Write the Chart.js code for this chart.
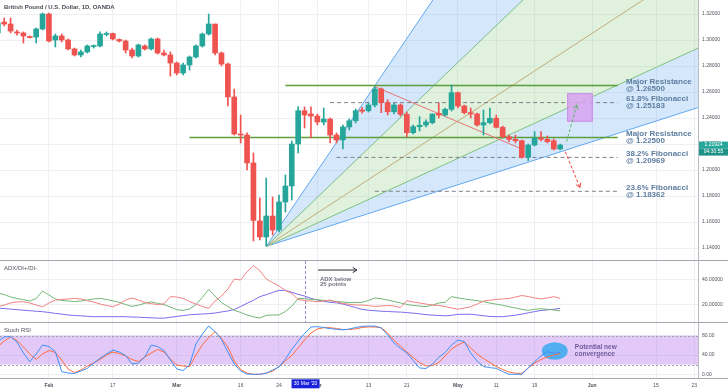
<!DOCTYPE html>
<html>
<head>
<meta charset="utf-8">
<script src="https://cdn.jsdelivr.net/npm/chart.js@4.4.1/dist/chart.umd.min.js"></script>
<style>
html,body{margin:0;padding:0;background:#fff;}
#wrap{position:relative;width:728px;height:391px;overflow:hidden;}
canvas{position:absolute;left:0;}
</style>
</head>
<body>
<div id="wrap">
  <canvas id="main" width="728" height="260" style="top:0"></canvas>
  <canvas id="adx" width="728" height="62" style="top:260px"></canvas>
  <canvas id="stoch" width="728" height="69" style="top:322px"></canvas>
</div>
<script>
// trading days (categories)
var firstDay = '2020-01-22', lastDay = '2020-06-26';
var dates = [];
for (var d = new Date(firstDay + 'T00:00:00Z'); d <= new Date(lastDay + 'T00:00:00Z'); d.setUTCDate(d.getUTCDate() + 1)) {
  var w = d.getUTCDay();
  if (w !== 0 && w !== 6) dates.push(d.toISOString().slice(0, 10));
}
function idx(s) { return dates.indexOf(s); }

var tickDates = ['2020-02-03','2020-02-17','2020-03-02','2020-03-16','2020-03-24','2020-04-01','2020-04-13','2020-04-21','2020-05-01','2020-05-11','2020-05-19','2020-06-01','2020-06-15','2020-06-23'];
var tickLabels = ['Feb','17','Mar','16','24','Apr','13','21','May','11','19','Jun','15','23'];
var priceTicks = [1.14,1.16,1.18,1.20,1.22,1.24,1.26,1.28,1.30,1.32];
var adxTicks = [20,40];
var stochTicks = [0,40,80];

// GBP/USD daily candles, 22 Jan - 25 May 2020
var opens = [1.3054,1.3138,1.3123,1.3062,1.3054,1.3027,1.3023,1.3085,1.3200,1.3000,
1.3031,1.3000,1.2931,1.2885,1.2908,1.2950,1.2954,1.3042,1.3050,1.3004,
1.2992,1.2923,1.2877,1.2954,1.2931,1.3008,1.2900,1.2885,1.2823,1.2746,
1.2808,1.2869,1.2954,1.3046,1.3123,1.2900,1.2815,1.2562,1.2277,1.2269,
1.2054,1.1608,1.1485,1.1646,1.1538,1.1754,1.1877,1.2200,1.2456,1.2431,
1.2415,1.2369,1.2392,1.2269,1.2231,1.2331,1.2379,1.2462,1.2456,1.2500,
1.2623,1.2518,1.2448,1.2500,1.2428,1.2287,1.2333,1.2346,1.2364,1.2436,
1.2423,1.2467,1.2595,1.2492,1.2441,1.2431,1.2346,1.2364,1.2398,1.2328,
1.2256,1.2236,1.2225,1.2098,1.2192,1.2248,1.2236,1.2225,1.2162];
var highs = [1.3138,1.3169,1.3169,1.3077,1.3062,1.3031,1.3092,1.3208,1.3208,1.3046,
1.3046,1.3008,1.2938,1.2923,1.2962,1.2962,1.3062,1.3062,1.3054,1.3008,
1.3000,1.2938,1.2969,1.2962,1.3015,1.3015,1.2923,1.2908,1.2831,1.2823,
1.2877,1.2962,1.3054,1.3200,1.3123,1.2908,1.2823,1.2623,1.2423,1.2285,
1.2131,1.1785,1.1938,1.1792,1.1808,1.1962,1.2223,1.2487,1.2485,1.2485,
1.2431,1.2477,1.2400,1.2285,1.2346,1.2392,1.2469,1.2482,1.2515,1.2641,
1.2631,1.2541,1.2515,1.2508,1.2446,1.2346,1.2410,1.2385,1.2431,1.2515,
1.2477,1.2654,1.2600,1.2500,1.2477,1.2438,1.2462,1.2477,1.2423,1.2338,
1.2269,1.2269,1.2231,1.2200,1.2295,1.2295,1.2262,1.2238,1.2200];
var lows = [1.3046,1.3108,1.3054,1.3038,1.2977,1.3015,1.2977,1.3077,1.2985,1.2946,
1.2985,1.2923,1.2877,1.2869,1.2900,1.2938,1.2946,1.3031,1.3000,1.2985,
1.2900,1.2862,1.2869,1.2923,1.2923,1.2892,1.2877,1.2723,1.2731,1.2731,
1.2769,1.2862,1.2946,1.3038,1.2885,1.2800,1.2492,1.2269,1.2208,1.2000,
1.1454,1.1462,1.1415,1.1500,1.1523,1.1677,1.1769,1.2131,1.2323,1.2246,
1.2346,1.2346,1.2208,1.2208,1.2162,1.2308,1.2362,1.2438,1.2446,1.2485,
1.2441,1.2423,1.2431,1.2415,1.2256,1.2277,1.2300,1.2331,1.2354,1.2400,
1.2415,1.2454,1.2477,1.2431,1.2400,1.2338,1.2269,1.2354,1.2323,1.2246,
1.2218,1.2208,1.2092,1.2072,1.2185,1.2223,1.2208,1.2154,1.2154];
var closes = [1.3131,1.3123,1.3069,1.3054,1.3031,1.3019,1.3085,1.3200,1.2992,1.3031,
1.3000,1.2931,1.2885,1.2908,1.2954,1.2954,1.3046,1.3050,1.3008,1.2992,
1.2923,1.2877,1.2962,1.2931,1.3008,1.2900,1.2885,1.2823,1.2746,1.2808,
1.2869,1.2954,1.3046,1.3123,1.2900,1.2815,1.2562,1.2277,1.2269,1.2054,
1.1612,1.1485,1.1646,1.1538,1.1754,1.1877,1.2200,1.2456,1.2423,1.2415,
1.2369,1.2392,1.2269,1.2231,1.2331,1.2379,1.2456,1.2452,1.2500,1.2623,
1.2518,1.2448,1.2500,1.2428,1.2287,1.2333,1.2344,1.2369,1.2431,1.2423,
1.2467,1.2595,1.2492,1.2441,1.2431,1.2346,1.2364,1.2398,1.2328,1.2256,
1.2236,1.2225,1.2098,1.2192,1.2244,1.2236,1.2218,1.2162,1.2192];

// ADX / DI+ / DI-
var minusDI = [18.0,19.4,21.1,21.9,22.1,21.1,19.4,18.0,21.1,23.5,
24.0,24.4,24.8,24.4,23.1,21.9,20.2,19.0,18.0,20.2,
23.5,25.2,23.5,21.5,20.5,19.8,20.4,26.3,26.0,24.8,
22.3,20.2,18.2,16.7,22.7,26.8,32.6,40.8,40.0,46.8,
51.7,47.8,40.8,37.9,35.1,31.4,28.9,24.0,23.1,22.7,
22.1,22.7,23.5,21.9,20.7,20.0,19.4,19.4,19.0,18.2,
18.6,19.0,18.6,17.4,23.0,21.9,21.1,20.2,19.4,19.0,
18.2,17.0,15.9,17.0,18.0,20.2,22.7,23.4,24.0,24.4,
24.8,26.0,27.2,26.4,25.2,24.4,25.2,26.3,24.9];
var plusDI = [29.3,28.0,26.0,24.8,23.8,22.7,24.8,30.9,27.7,24.4,
23.2,22.7,22.3,22.7,23.5,24.4,24.9,24.0,22.9,21.6,
19.8,18.3,19.3,20.8,22.0,20.8,19.7,17.8,15.6,15.0,
16.1,19.8,25.6,32.3,26.8,21.5,18.2,15.1,13.3,11.2,
9.7,8.7,10.9,11.2,11.2,14.1,18.4,24.8,24.6,24.1,
23.7,23.3,22.9,22.3,21.9,21.4,21.5,21.6,23.1,25.2,
24.6,23.5,22.4,21.1,19.9,19.0,18.6,18.1,19.3,21.1,
21.6,26.3,25.3,24.4,23.7,23.0,22.1,21.0,20.1,19.2,
18.0,17.0,15.8,15.0,15.9,16.3,15.9,15.3,14.6];
var adxLine = [16.8,16.5,16.0,15.6,15.1,14.7,14.3,13.9,13.3,12.5,
11.9,11.2,10.8,10.5,10.1,9.8,9.8,9.8,9.8,9.8,
9.8,9.5,9.4,9.1,8.9,8.6,8.6,9.3,10.0,10.7,
11.4,11.7,12.0,12.3,12.8,13.7,14.5,15.7,18.2,20.8,
23.3,26.3,27.9,29.7,31.5,31.4,29.9,28.2,26.8,24.9,
23.5,22.4,21.6,21.2,20.2,18.8,17.3,15.8,15.1,14.7,
14.3,14.1,13.8,13.6,13.2,12.7,12.2,11.5,11.1,10.8,
10.5,10.9,11.8,11.8,11.8,11.2,10.6,10.0,9.8,9.8,
10.4,11.0,11.9,13.0,14.0,14.9,15.4,15.9,16.6];

// Stoch RSI
var stochK = [67.6,77.3,78.3,66.9,44.1,26.1,42.1,60.7,57.6,46.8,
5.4,2.7,1.7,6.8,12.4,23.4,33.2,42.1,50.4,46.2,
39.0,21.3,23.4,35.9,60.7,57.6,49.3,29.6,11.0,7.9,
19.3,62.8,83.5,100,88.7,72.1,46.2,21.3,6.8,0.6,
0,0.2,2.1,8.9,15.1,31.7,51.4,69.0,84.6,98.0,
98.7,97.0,94.7,93.3,92.2,93.9,97.0,99.5,100,100,
96.0,81.5,64.9,53.9,44.1,28.6,13.1,12.0,21.3,35.2,
45.2,60.7,71.1,67.6,44.1,27.6,16.2,13.7,12.4,5.8,
0,0,0,13.1,26.1,37.9,46.8,44.1,44.8];
var stochD = [57.2,69.0,77.3,70.1,56.6,42.1,30.7,42.1,49.3,45.2,
29.6,11.0,3.7,8.9,17.2,23.4,30.7,40.0,46.2,43.1,
37.9,30.7,26.5,35.9,44.1,51.4,46.2,31.7,19.3,17.2,
15.8,40.0,60.7,76.3,88.3,74.2,56.6,27.6,9.9,2.7,
0,0,2.7,6.4,16.2,27.6,39.0,54.5,71.1,85.6,
93.9,96.6,96.6,94.9,92.8,92.8,94.3,97.0,98.2,98.0,
96.6,85.6,70.1,58.7,46.2,34.8,24.5,17.2,18.2,24.5,
37.9,52.4,60.7,66.9,54.5,42.1,32.7,24.5,16.2,9.9,
4.8,2.1,2.1,13.1,23.4,30.7,35.9,40.0,43.1];
var stochBand = [20, 80];

// drawings on the price panel
var levelNames = ['Major Resistance','61.8% Fibonacci','Major Resistance','38.2% Fibonacci','23.6% Fibonacci'];
var levelPrices = [1.26500, 1.25183, 1.22500, 1.20969, 1.18362];
var levelFrom = ['2020-03-25','2020-04-03','2020-03-04','2020-04-06','2020-04-14'];
var levelTo = '2020-06-05';
var fanOriginDate = '2020-03-20', fanOriginPrice = 1.1412;
var fanEndDate = '2020-06-24';
var fanEndPrices = [1.6356, 1.4621, 1.3598, 1.2947, 1.2487];
var trendDates = ['2020-04-14','2020-05-15'];
var trendPrices = [1.2641, 1.2162];
var projUpX = [89.0, 90.6], projUpY = [1.2218, 1.2500];
var projDownX = [88.8, 91.1], projDownY = [1.2141, 1.1865];
var targetBoxX = [89.1, 93.1], targetBoxY = [1.2372, 1.2590];
var noteX = 98.3;
var lastPrice = 1.21924, countdown = '04:30:55';
var markerDate = '2020-03-30', markerText = "30 Mar '20";

var FONT = '"Liberation Sans", Arial, sans-serif';
var UP = '#26a69a', DOWN = '#ef5350';
var X_MIN = 0.34, X_MAX = 109.57;

function candleColor(c) { return closes[c.dataIndex] >= opens[c.dataIndex] ? UP : DOWN; }
function series(arr) { return arr.map(function (v, i) { return {x: i, y: v}; }); }
function noPad(s) { s.paddingTop = 0; s.paddingBottom = 0; s.paddingLeft = 0; s.paddingRight = 0; }

function xAxis(show) {
  return {
    type: 'linear', min: X_MIN, max: X_MAX, offset: false,
    afterBuildTicks: function (s) { s.ticks = tickDates.map(function (t) { return {value: idx(t)}; }); },
    afterFit: function (s) { s.height = show ? 13 : 0; noPad(s); },
    grid: {color: '#eef0f4', drawTicks: false, offset: false},
    border: {display: false},
    ticks: {
      display: show, autoSkip: false, maxRotation: 0, minRotation: 0, padding: 5, color: '#50535e',
      font: function (c) { return {family: FONT, size: 5, weight: /^[A-Z]/.test(tickLabels[c.index]) ? 'bold' : 'normal'}; },
      callback: function (v, i) { return tickLabels[i]; }
    }
  };
}
function yAxis(min, max, ticks, dec) {
  return {
    position: 'right', min: min, max: max,
    afterBuildTicks: function (s) { s.ticks = ticks.map(function (v) { return {value: v}; }); },
    afterFit: function (s) { s.width = 30; noPad(s); },
    grid: {color: '#eef0f4', drawTicks: false},
    border: {display: false},
    ticks: {padding: 4, color: '#50535e', font: {family: FONT, size: 5}, callback: function (v) { return v.toFixed(dec); }}
  };
}
var base = {
  responsive: false, animation: false, events: [],
  layout: {padding: 0},
  plugins: {legend: {display: false}, tooltip: {enabled: false}}
};

function seg(ctx, x0, y0, x1, y1) { ctx.beginPath(); ctx.moveTo(x0, y0); ctx.lineTo(x1, y1); ctx.stroke(); }
function chevron(ctx, x0, y0, x1, y1, len) {
  var a = Math.atan2(y1 - y0, x1 - x0);
  ctx.beginPath();
  ctx.moveTo(x1 - len * Math.cos(a - 0.55), y1 - len * Math.sin(a - 0.55));
  ctx.lineTo(x1, y1);
  ctx.lineTo(x1 - len * Math.cos(a + 0.55), y1 - len * Math.sin(a + 0.55));
  ctx.stroke();
}

// ---------- price panel ----------
var fanLine = ['#64a8f0','#7fc17f','#d9a27c','#7fc17f','#64a8f0'];
var fanFill = ['+1','+2',false,'+1',false];
var fanBg = ['rgba(100,170,240,0.28)','rgba(130,200,120,0.25)','transparent','rgba(100,170,240,0.28)','transparent'];
var mainSets = fanEndPrices.map(function (p, k) {
  return {type: 'line', label: 'Fan ' + k, order: 10,
    data: [{x: idx(fanOriginDate), y: fanOriginPrice}, {x: idx(fanEndDate), y: p}],
    borderColor: fanLine[k], borderWidth: 1, pointRadius: 0, fill: fanFill[k], backgroundColor: fanBg[k]};
});
levelNames.forEach(function (n, k) {
  var fib = n.indexOf('Fibonacci') >= 0;
  mainSets.push({type: 'line', label: n, order: 6,
    data: [{x: idx(levelFrom[k]), y: levelPrices[k]}, {x: idx(levelTo), y: levelPrices[k]}],
    borderColor: fib ? '#7d8088' : '#5c9e3b', borderWidth: fib ? 1 : 1.5, borderDash: fib ? [4, 3] : [],
    pointRadius: 0, fill: false});
});
mainSets.push({type: 'line', label: 'Trend', order: 5,
  data: [{x: idx(trendDates[0]), y: trendPrices[0]}, {x: idx(trendDates[1]), y: trendPrices[1]}],
  borderColor: '#e57373', borderWidth: 1, pointRadius: 0, fill: false});
mainSets.push({type: 'bar', label: 'Wick', order: 2, grouped: false, barThickness: 1,
  data: highs.map(function (h, i) { return {x: i, y: [lows[i], h]}; }), backgroundColor: candleColor});
mainSets.push({type: 'bar', label: 'Body', order: 1, grouped: false, barThickness: 5, minBarLength: 1,
  data: opens.map(function (o, i) { return {x: i, y: [o, closes[i]]}; }), backgroundColor: candleColor});
mainSets.push({type: 'line', label: 'Projection up', order: 0,
  data: [{x: projUpX[0], y: projUpY[0]}, {x: projUpX[1], y: projUpY[1]}],
  borderColor: '#5cb860', borderWidth: 1, borderDash: [3, 2], pointRadius: 0, fill: false});
mainSets.push({type: 'line', label: 'Projection down', order: 0,
  data: [{x: projDownX[0], y: projDownY[0]}, {x: projDownX[1], y: projDownY[1]}],
  borderColor: '#f44336', borderWidth: 1, borderDash: [3, 2], pointRadius: 0, fill: false});

var mainDecor = {
  id: 'mainDecor',
  beforeDatasetsDraw: function (c) { c.$boxDone = false; },
  beforeDatasetDraw: function (c, a) {
    if (c.$boxDone || c.data.datasets[a.index].label.indexOf('Projection') !== 0) return;
    var ctx = c.ctx, xs = c.scales.x, ys = c.scales.y;
    var x0 = xs.getPixelForValue(targetBoxX[0]), x1 = xs.getPixelForValue(targetBoxX[1]);
    var y0 = ys.getPixelForValue(targetBoxY[1]), y1 = ys.getPixelForValue(targetBoxY[0]);
    ctx.save();
    ctx.fillStyle = 'rgba(216,166,240,0.88)';
    ctx.fillRect(x0, y0, x1 - x0, y1 - y0);
    ctx.strokeStyle = '#c98ae6'; ctx.lineWidth = 1;
    ctx.strokeRect(x0 + 0.5, y0 + 0.5, x1 - x0 - 1, y1 - y0 - 1);
    ctx.restore();
    c.$boxDone = true;
  },
  afterDatasetsDraw: function (c) {
    var ctx = c.ctx, xs = c.scales.x, ys = c.scales.y;
    ctx.save(); ctx.lineWidth = 1;
    ctx.strokeStyle = '#5cb860';
    chevron(ctx, xs.getPixelForValue(projUpX[0]), ys.getPixelForValue(projUpY[0]), xs.getPixelForValue(projUpX[1]), ys.getPixelForValue(projUpY[1]), 5);
    ctx.strokeStyle = '#f44336';
    chevron(ctx, xs.getPixelForValue(projDownX[0]), ys.getPixelForValue(projDownY[0]), xs.getPixelForValue(projDownX[1]), ys.getPixelForValue(projDownY[1]), 5);
    ctx.restore();
  },
  afterDraw: function (c) {
    var ctx = c.ctx, xs = c.scales.x, ys = c.scales.y, a = c.chartArea;
    ctx.save();
    ctx.textBaseline = 'middle'; ctx.textAlign = 'left';
    ctx.font = 'bold 6px ' + FONT; ctx.fillStyle = '#4a4d57';
    ctx.fillText('British Pound / U.S. Dollar, 1D, OANDA', 4, 7);
    ctx.font = 'bold 8px ' + FONT; ctx.fillStyle = '#5d7d9f';
    var lx = xs.getPixelForValue(noteX);
    levelNames.forEach(function (n, k) {
      var y = ys.getPixelForValue(levelPrices[k]);
      ctx.fillText(n, lx, y - 3.5);
      ctx.fillText('@ ' + levelPrices[k].toFixed(5), lx, y + 3.5);
    });
    ctx.strokeStyle = '#b8bbc2'; ctx.lineWidth = 1;
    seg(ctx, a.right + 0.5, 0, a.right + 0.5, c.height);
    var py = ys.getPixelForValue(lastPrice);
    ctx.fillStyle = '#26a69a'; ctx.fillRect(a.right + 1, py - 3.4, 30, 7);
    ctx.fillStyle = '#1f9287'; ctx.fillRect(a.right + 1, py + 3.6, 30, 7);
    ctx.fillStyle = '#ffffff'; ctx.font = '5px ' + FONT; ctx.textAlign = 'center';
    ctx.fillText(lastPrice.toFixed(5), a.right + 15.5, py + 0.1);
    ctx.fillText(countdown, a.right + 15.5, py + 7.1);
    ctx.restore();
  }
};

new Chart(document.getElementById('main'), {
  type: 'bar',
  data: {datasets: mainSets},
  options: Object.assign({}, base, {scales: {x: xAxis(false), y: yAxis(1.13077, 1.33077, priceTicks, 5)}}),
  plugins: [mainDecor]
});

// ---------- ADX panel ----------
var adxNoteX = 50.4, adxNoteY = [40.8, 36.3];
var adxArrowX = [50.1, 56.2], adxArrowY = 48.2;
var adxDecor = {
  id: 'adxDecor',
  afterDraw: function (c) {
    var ctx = c.ctx, xs = c.scales.x, ys = c.scales.y, a = c.chartArea;
    ctx.save(); ctx.lineWidth = 1;
    ctx.strokeStyle = '#a3a6af';
    seg(ctx, 0, 0.5, c.width, 0.5);
    ctx.strokeStyle = '#b8bbc2';
    seg(ctx, a.right + 0.5, 0, a.right + 0.5, c.height);
    var mx = Math.round(xs.getPixelForValue(idx(markerDate))) + 0.5;
    ctx.strokeStyle = '#9c80d4'; ctx.setLineDash([3, 2]);
    seg(ctx, mx, 1, mx, c.height);
    ctx.setLineDash([]);
    ctx.textBaseline = 'middle'; ctx.textAlign = 'left';
    ctx.font = '6px ' + FONT; ctx.fillStyle = '#50535e';
    ctx.fillText('ADX/DI+/DI-', 4, 8.3);
    var ax0 = xs.getPixelForValue(adxArrowX[0]), ax1 = xs.getPixelForValue(adxArrowX[1]), ay = ys.getPixelForValue(adxArrowY);
    ctx.strokeStyle = '#2a2e39';
    seg(ctx, ax0, ay, ax1, ay);
    chevron(ctx, ax0, ay, ax1, ay, 5);
    ctx.font = 'bold 6px ' + FONT; ctx.fillStyle = '#6f727c';
    var nx = xs.getPixelForValue(adxNoteX);
    ctx.fillText('ADX below', nx, ys.getPixelForValue(adxNoteY[0]));
    ctx.fillText('25 points', nx, ys.getPixelForValue(adxNoteY[1]));
    ctx.restore();
  }
};
new Chart(document.getElementById('adx'), {
  type: 'line',
  data: {datasets: [
    {label: 'DI-', data: series(minusDI), borderColor: '#f08282', borderWidth: 1, pointRadius: 0, fill: false},
    {label: 'DI+', data: series(plusDI), borderColor: '#72b676', borderWidth: 1, pointRadius: 0, fill: false},
    {label: 'ADX', data: series(adxLine), borderColor: '#7b6cec', borderWidth: 1, pointRadius: 0, fill: false}
  ]},
  options: Object.assign({}, base, {scales: {x: xAxis(false), y: yAxis(5.43, 56.46, adxTicks, 5)}}),
  plugins: [adxDecor]
});

// ---------- Stoch RSI panel ----------
var noteEllipseX = 87.15, noteEllipseY = 48.3;
var stochNoteX = 90.3;
var stochDecor = {
  id: 'stochDecor',
  beforeDatasetsDraw: function (c) {
    var ctx = c.ctx, xs = c.scales.x, ys = c.scales.y, a = c.chartArea;
    var yTop = ys.getPixelForValue(stochBand[1]), yBot = ys.getPixelForValue(stochBand[0]);
    ctx.save();
    ctx.fillStyle = 'rgba(170,90,235,0.33)';
    ctx.fillRect(a.left, yTop, a.right - a.left, yBot - yTop);
    ctx.strokeStyle = '#9ea1a9'; ctx.lineWidth = 1; ctx.setLineDash([2, 2]);
    seg(ctx, a.left, Math.round(yTop) + 0.5, a.right, Math.round(yTop) + 0.5);
    seg(ctx, a.left, Math.round(yBot) + 0.5, a.right, Math.round(yBot) + 0.5);
    ctx.setLineDash([]);
    ctx.fillStyle = 'rgba(45,168,240,0.8)';
    ctx.beginPath();
    ctx.ellipse(xs.getPixelForValue(noteEllipseX), ys.getPixelForValue(noteEllipseY), 13, 8.8, 0, 0, Math.PI * 2);
    ctx.fill();
    ctx.restore();
  },
  afterDraw: function (c) {
    var ctx = c.ctx, xs = c.scales.x, ys = c.scales.y, a = c.chartArea;
    ctx.save(); ctx.lineWidth = 1;
    ctx.strokeStyle = '#a3a6af';
    seg(ctx, 0, 0.5, c.width, 0.5);
    seg(ctx, 0, a.bottom + 0.5, c.width, a.bottom + 0.5);
    ctx.strokeStyle = '#b8bbc2';
    seg(ctx, a.right + 0.5, 0, a.right + 0.5, a.bottom);
    ctx.textBaseline = 'middle'; ctx.textAlign = 'left';
    ctx.font = '6px ' + FONT; ctx.fillStyle = '#50535e';
    ctx.fillText('Stoch RSI', 4, 8.7);
    ctx.font = 'bold 6.5px ' + FONT; ctx.fillStyle = '#6e5c9e';
    var ny = ys.getPixelForValue(noteEllipseY), nx = xs.getPixelForValue(stochNoteX);
    ctx.fillText('Potential new', nx, ny - 4);
    ctx.fillText('convergence', nx, ny + 3.3);
    var mx = xs.getPixelForValue(idx(markerDate));
    ctx.fillStyle = '#1a23d9';
    ctx.fillRect(mx - 13, a.bottom + 1.3, 28, 9);
    ctx.fillStyle = '#ffffff'; ctx.font = '5px ' + FONT; ctx.textAlign = 'center';
    ctx.fillText(markerText, mx + 1, a.bottom + 6);
    ctx.restore();
  }
};
new Chart(document.getElementById('stoch'), {
  type: 'line',
  data: {datasets: [
    {label: 'K', data: series(stochK), borderColor: '#3f8ff5', borderWidth: 1, pointRadius: 0, fill: false},
    {label: 'D', data: series(stochD), borderColor: '#ff6a3d', borderWidth: 1, pointRadius: 0, fill: false}
  ]},
  options: Object.assign({}, base, {scales: {x: xAxis(true), y: yAxis(-7.67, 108.4, stochTicks, 2)}}),
  plugins: [stochDecor]
});
</script>
</body>
</html>
